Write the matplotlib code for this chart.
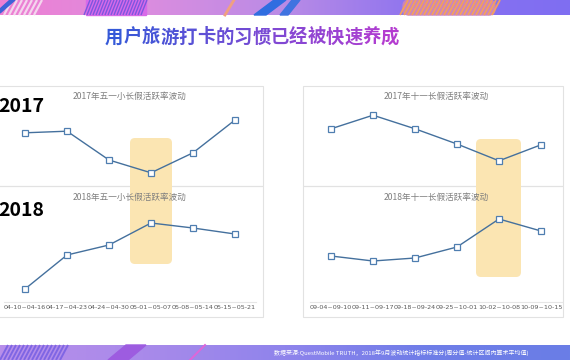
import numpy as np
import matplotlib.pyplot as plt
from matplotlib.patches import FancyBboxPatch, Rectangle, Polygon
from matplotlib.colors import LinearSegmentedColormap, to_rgb

plt.rcParams['font.family'] = ['Noto Sans CJK SC', 'DejaVu Sans']

# data (relative activity level, 0-100 scale)
may_weeks = ['04-10~04-16', '04-17~04-23', '04-24~04-30', '05-01~05-07', '05-08~05-14', '05-15~05-21']
oct_weeks = ['09-04~09-10', '09-11~09-17', '09-18~09-24', '09-25~10-01', '10-02~10-08', '10-09~10-15']
may_2017 = [59, 61, 25, 9, 34, 75]
may_2018 = [11, 45, 55, 77, 72, 66]
oct_2017 = [64, 81, 64, 45, 24, 44]
oct_2018 = [44, 39, 42, 53, 81, 69]
holiday_idx = 3, 4   # highlighted week in left / right panel

title = '用户旅游打卡的习惯已经被快速养成'
source = '数据来源:QuestMobile TRUTH，2018年9月波动统计指标标准分(周分值-统计区间内算术平均值)'

W, H = 570, 360
fig = plt.figure(figsize=(W / 100, H / 100), dpi=100)
fig.patch.set_facecolor('white')

# background axes in pixel coordinates
bg = fig.add_axes([0, 0, 1, 1])
bg.set_xlim(0, W)
bg.set_ylim(H, 0)
bg.axis('off')

# top banner gradient
top_cmap = LinearSegmentedColormap.from_list('top', ['#ef7fd3', '#dc8ddf', '#b98be6', '#8a72f0', '#7f6ef2'])
grad = np.linspace(0, 1, 256).reshape(1, -1)
bg.imshow(grad, cmap=top_cmap, extent=[0, W, 15, 0], aspect='auto', zorder=1)
bot_cmap = LinearSegmentedColormap.from_list('bot', ['#b88fea', '#a98aea', '#8f84ec', '#6f7de8', '#6a7ee6'])
bg.imshow(grad, cmap=bot_cmap, extent=[0, W, H, 345], aspect='auto', zorder=1)

def stripes(x0, x1, y0, y1, color, step=4, lw=1.2, slant=8, alpha=1.0):
    for x in np.arange(x0, x1, step):
        bg.plot([x, x + slant], [y1, y0], color=color, lw=lw, alpha=alpha,
                solid_capstyle='butt', zorder=2)

# header decorations
stripes(4, 36, 0, 15, '#f4d6ee', step=5, lw=1.6)
bg.add_patch(Polygon([[0, 13], [0, 9], [10, 0], [15, 0]], color='#3f63d8', zorder=3))
bg.add_patch(Rectangle((86, 0), 60, 15, color='#d86ae8', zorder=2))
stripes(84, 142, 0, 15, '#7d56e0', step=3, lw=1.0, slant=6)
bg.plot([225, 234], [15, 0], color='#f0a080', lw=2, zorder=2)
bg.add_patch(Polygon([[254, 15], [266, 15], [286, 0], [274, 0]], color='#2f6de0', zorder=3))
bg.add_patch(Polygon([[280, 15], [288, 15], [300, 0], [292, 0]], color='#3f73e0', zorder=3))
bg.add_patch(FancyBboxPatch((403, 0), 92, 15, boxstyle='round,pad=0,rounding_size=6',
                            color='#c884c0', zorder=2))
stripes(400, 494, 0, 15, '#f3a05e', step=4, lw=1.3, slant=8)

# footer decorations
stripes(0, 62, 345, 360, '#7f66e4', step=4, lw=1.4, slant=8)
bg.add_patch(Polygon([[108, 360], [128, 360], [146, 345], [126, 345]], color='#9d5ce0', zorder=3))
bg.plot([190, 205], [360, 345], color='#e065d8', lw=1.4, zorder=2)
bg.text(274, 352.5, source, fontsize=4.3, color='white', va='center', ha='left', zorder=4)

# title with a blue -> purple gradient, one character at a time
c0, c1 = np.array(to_rgb('#3559d8')), np.array(to_rgb('#b43cd0'))
x0, step = 105, 18.4
for i, ch in enumerate(title):
    t = i / (len(title) - 1)
    bg.text(x0 + step * (i + 0.5), 37, ch, fontsize=13.2, fontweight='bold',
            color=c0 + (c1 - c0) * t, ha='center', va='center', zorder=4)

# chart frames
frame = dict(fill=False, edgecolor='#e2e2e2', lw=0.8, zorder=2)
bg.add_patch(Rectangle((-5, 86), 268, 100, **frame))
bg.add_patch(Rectangle((-5, 186), 268, 131, **frame))
bg.add_patch(Rectangle((303, 86), 260, 100, **frame))
bg.add_patch(Rectangle((303, 186), 260, 131, **frame))
bg.plot([4, 256], [302, 302], color='#e6e6e6', lw=0.8, zorder=2)
bg.plot([310, 562], [302, 302], color='#e6e6e6', lw=0.8, zorder=2)

# holiday highlight bands
hl = '#fbe5b2'
bg.add_patch(FancyBboxPatch((130, 138), 42, 126, boxstyle='round,pad=0,rounding_size=5',
                            facecolor=hl, edgecolor='none', zorder=3))
bg.add_patch(FancyBboxPatch((476, 139), 45, 138, boxstyle='round,pad=0,rounding_size=5',
                            facecolor=hl, edgecolor='none', zorder=3))

bg.text(-2, 107, '2017', fontsize=14, fontweight='bold', color='black', ha='left', va='center', zorder=4)
bg.text(-2, 211, '2018', fontsize=14, fontweight='bold', color='black', ha='left', va='center', zorder=4)


def chart(px0, px1, py0, py1, vals, labels, name, ty, show_ticks):
    ax = fig.add_axes([px0 / W, 1 - py1 / H, (px1 - px0) / W, (py1 - py0) / H])
    ax.set_facecolor('none')
    ax.set_zorder(5)
    x = np.arange(len(vals))
    ax.plot(x, vals, color='#44709d', lw=1.0, marker='s', markersize=4.2,
            markerfacecolor='white', markeredgecolor='#4f7eb0', markeredgewidth=0.9)
    ax.set_xlim(-0.5, len(vals) - 0.5)
    ax.set_ylim(0, 100)
    for s in ax.spines.values():
        s.set_visible(False)
    ax.set_yticks([])
    if show_ticks:
        ax.set_xticks(x)
        ax.set_xticklabels(labels, fontsize=4.6, color='#595959', family='DejaVu Sans')
        ax.tick_params(axis='x', length=0, pad=3.6)
    else:
        ax.set_xticks([])
    bg.text((px0 + px1) / 2, ty, name, fontsize=6.2, color='#7f7f7f', ha='center', va='center', zorder=6)
    return ax


chart(4, 256, 100, 180, may_2017, may_weeks, '2017年五一小长假活跃率波动', 96, False)
chart(4, 256, 200, 300, may_2018, may_weeks, '2018年五一小长假活跃率波动', 197, True)
chart(310, 562, 100, 180, oct_2017, oct_weeks, '2017年十一长假活跃率波动', 96, False)
chart(310, 562, 200, 300, oct_2018, oct_weeks, '2018年十一长假活跃率波动', 197, True)

fig.savefig('out.png', dpi=100)
